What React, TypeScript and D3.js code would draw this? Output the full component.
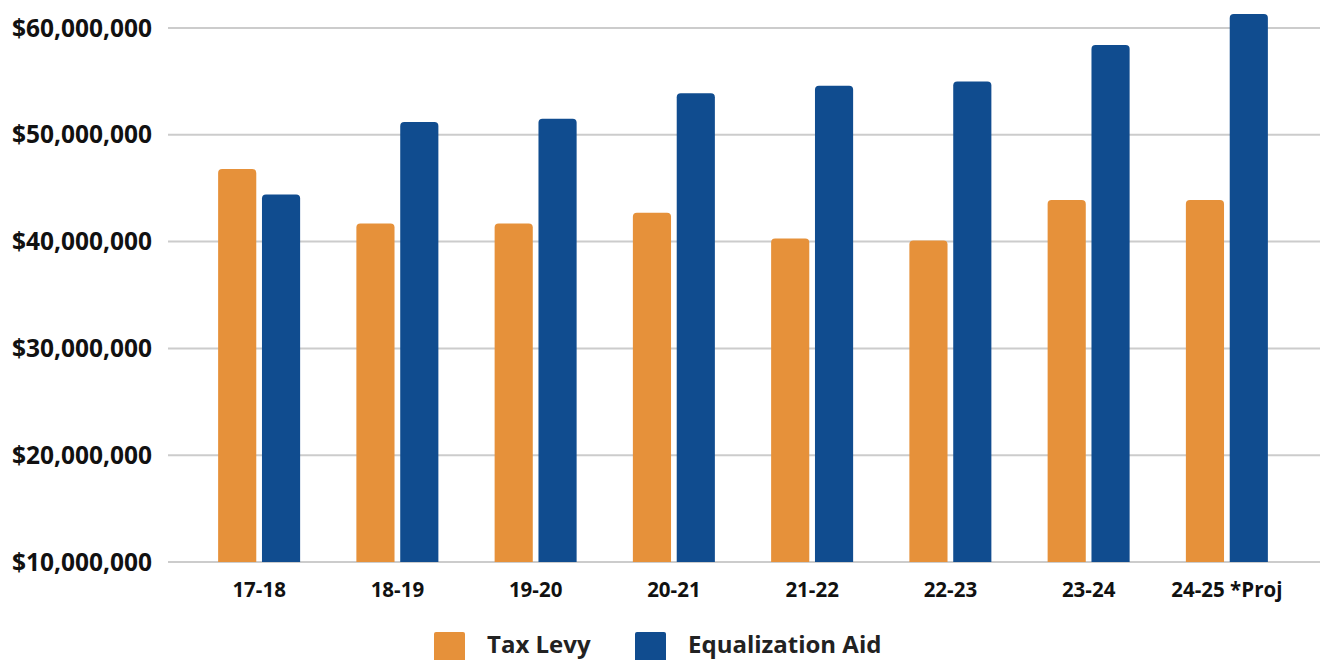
import * as d3 from "d3";
import { useEffect, useRef } from "react";

const years = ["17-18", "18-19", "19-20", "20-21", "21-22", "22-23", "23-24", "24-25 *Proj"];
const taxLevy = [46.8, 41.7, 41.7, 42.7, 40.3, 40.1, 43.9, 43.9].map(v => v * 1e6);
const equalizationAid = [44.4, 51.2, 51.5, 53.9, 54.6, 55.0, 58.4, 61.3].map(v => v * 1e6);
const yTicks = [10e6, 20e6, 30e6, 40e6, 50e6, 60e6];
const seriesNames = ["Tax Levy", "Equalization Aid"];
const colors = ["#E6913A", "#104C8F"];

// bar path with rounded top corners
function topRounded(x: number, y: number, w: number, h: number, r: number) {
    r = Math.min(r, h, w / 2);
    return `M${x},${y + h}V${y + r}Q${x},${y} ${x + r},${y}H${x + w - r}Q${x + w},${y} ${x + w},${y + r}V${y + h}Z`;
}

export default function App() {
    const ref = useRef<SVGSVGElement>(null);

    useEffect(() => {
        const width = 1320;
        const height = 660;
        const svg = d3.select(ref.current)
            .attr('width', width)
            .attr('height', height);

        svg.selectAll('*').remove();

        const font = "'Open Sans', 'Liberation Sans', sans-serif";

        // Scales
        const x = d3.scaleBand()
            .domain(years)
            .range([190, 1296]);

        const inner = d3.scaleBand()
            .domain(seriesNames)
            .range([x.bandwidth() / 2 - 41, x.bandwidth() / 2 + 41])
            .paddingInner(0.13);

        const y = d3.scaleLinear()
            .domain([10e6, 60e6])
            .range([562, 28]);

        // Gridlines
        svg.append('g')
            .selectAll('line')
            .data(yTicks)
            .join('line')
            .attr('x1', 168)
            .attr('x2', width)
            .attr('y1', d => y(d))
            .attr('y2', d => y(d))
            .attr('stroke', '#cccccc')
            .attr('stroke-width', 2);

        // Y labels
        const fmt = d3.format('$,.0f');
        svg.append('g')
            .selectAll('text')
            .data(yTicks)
            .join('text')
            .attr('x', 152)
            .attr('y', d => y(d))
            .attr('dy', '0.35em')
            .attr('text-anchor', 'end')
            .attr('font-family', font)
            .attr('font-weight', 700)
            .attr('font-size', 24.5)
            .attr('fill', '#111')
            .text(d => fmt(d));

        // Bars
        const data = years.map((yr, i) => [
            { yr, s: seriesNames[0], v: taxLevy[i] },
            { yr, s: seriesNames[1], v: equalizationAid[i] },
        ]).flat();

        svg.append('g')
            .selectAll('path')
            .data(data)
            .join('path')
            .attr('d', d => {
                const bx = (x(d.yr) as number) + (inner(d.s) as number);
                const by = y(d.v);
                return topRounded(bx, by, inner.bandwidth(), y(10e6) - by, 4);
            })
            .attr('fill', d => colors[seriesNames.indexOf(d.s)]);

        // X labels
        svg.append('g')
            .selectAll('text')
            .data(years)
            .join('text')
            .attr('x', d => (x(d) as number) + x.bandwidth() / 2)
            .attr('y', 597)
            .attr('text-anchor', 'middle')
            .attr('font-family', font)
            .attr('font-weight', 700)
            .attr('font-size', 20.5)
            .attr('fill', '#111')
            .text(d => d);

        // Legend
        const legendX = [434, 635];
        const legend = svg.append('g')
            .selectAll('g')
            .data(seriesNames)
            .join('g')
            .attr('transform', (d, i) => `translate(${legendX[i]},632)`);

        legend.append('rect')
            .attr('width', 31)
            .attr('height', 31)
            .attr('rx', 2)
            .attr('fill', (d, i) => colors[i]);

        legend.append('text')
            .attr('x', 53)
            .attr('y', 13)
            .attr('dy', '0.35em')
            .attr('font-family', font)
            .attr('font-weight', 700)
            .attr('font-size', 24)
            .attr('fill', '#222')
            .text(d => d);
    }, []);

    return (
        <svg ref={ref} style={{ position: 'absolute', left: 0, top: 0, background: '#fff' }}></svg>
    );
}
